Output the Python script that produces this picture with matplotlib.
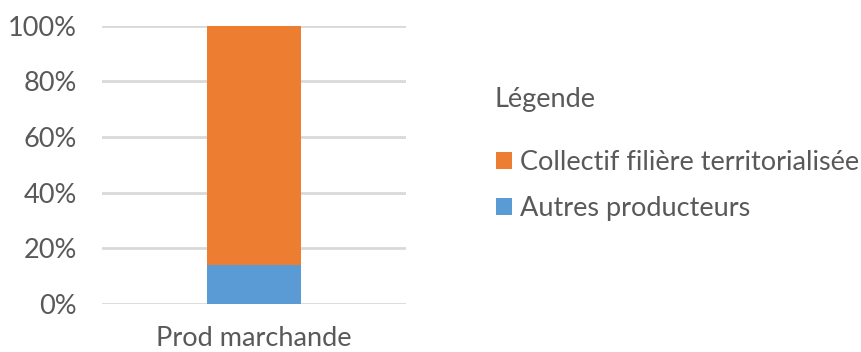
import matplotlib
matplotlib.use("Agg")
import matplotlib.pyplot as plt
import numpy as np

# Share of market production by producer type
categories = ["Prod marchande"]
autres = [0.14]
collectif = [0.86]
series_labels = ["Collectif filière territorialisée", "Autres producteurs"]

ORANGE = "#ED7D31"
BLUE = "#5B9BD5"
GRID = "#D9D9D9"
TEXT = "#595959"
FS = 19.5

plt.rcParams["font.family"] = ["Lato", "DejaVu Sans"]

fig = plt.figure(figsize=(8.62, 3.52), dpi=100)
ax = fig.add_axes([0.118, 0.137, 0.353, 0.79])

x = np.arange(len(categories))
b1 = ax.bar(x, autres, width=0.31, color=BLUE, zorder=3)
b2 = ax.bar(x, collectif, bottom=autres, width=0.31, color=ORANGE, zorder=3)

ax.set_xlim(-0.5, 0.5)
ax.set_ylim(0, 1)
yt = np.arange(0, 1.01, 0.2)
ax.set_yticks(yt)
ax.set_yticklabels([f"{int(round(v * 100))}%" for v in yt])
ax.set_xticks(x)
ax.set_xticklabels(categories)
ax.grid(axis="y", color=GRID, linewidth=2, zorder=0)
ax.tick_params(axis="both", length=0, labelsize=FS, colors=TEXT)
ax.tick_params(axis="y", pad=18)
ax.tick_params(axis="x", pad=16)
for s in ax.spines.values():
    s.set_visible(False)

# legend: title as its own text, entries below it
fig.text(0.574, 0.716, "Légende", fontsize=FS, color=TEXT, va="center", ha="left")
leg = fig.legend([b2, b1], series_labels, loc="center left",
                 bbox_to_anchor=(0.575, 0.473), frameon=False,
                 fontsize=FS, borderpad=0, borderaxespad=0,
                 handlelength=0.59, handleheight=0.59, handletextpad=0.3,
                 labelspacing=0.75, labelcolor=TEXT)

fig.savefig("out.png", dpi=100)
